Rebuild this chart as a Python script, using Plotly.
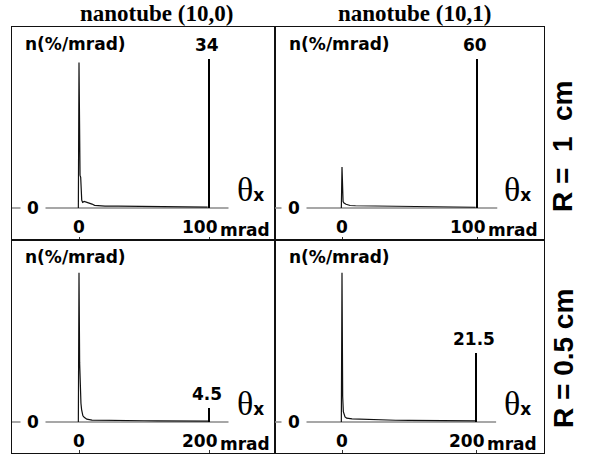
import plotly.graph_objects as go

W, H = 593, 458

# ---------------- data ----------------
col_titles = ["nanotube (10,0)", "nanotube (10,1)"]
row_labels = ["R\u00a0=\u00a0\u00a01\u00a0\u00a0cm", "R = 0.5 cm"]
y_label = "n(%/mrad)"
x_unit = "mrad"
theta_label = "θ"
theta_sub = "x"
bend_angles = [100, 200]              # mrad, per row (R = 1 cm, R = 0.5 cm)
x_tick_labels = [["0", "100"], ["0", "200"]]
y_tick_label = "0"

# angular distributions n(theta_x) near 0 mrad, per panel
tl_x = [-0.5, 0, 0.8, 1.3, 2.1, 2.8, 4, 6, 8, 10, 12, 16, 20, 30, 40, 50, 60, 70, 80, 90, 99]
tl_n = [0, 33.2, 7.5, 7.0, 1.8, 1.3, 1.5, 1.3, 1.2, 0.9, 0.6, 0.5, 0.45, 0.45, 0.4, 0.35, 0.3, 0.3, 0.25, 0.25, 0.2]

tr_x = [-0.5, 0, 0.8, 1.5, 3, 6, 10, 20, 30, 40, 50, 60, 70, 80, 90, 99]
tr_n = [0, 16.5, 2.6, 2.0, 1.5, 1.0, 0.9, 0.8, 0.7, 0.6, 0.5, 0.45, 0.4, 0.35, 0.3, 0.3]

bl_x = [-1, 0, 1, 2, 3, 4, 6, 8, 12, 20, 40, 60, 80, 100, 120, 140, 160, 180, 199]
bl_n = [0, 48, 19, 9, 6, 4, 2, 1.5, 0.9, 0.6, 0.5, 0.45, 0.4, 0.4, 0.35, 0.35, 0.3, 0.3, 0.3]

br_x = [-1, 0, 1, 2, 4.5, 7, 15, 25, 37, 60, 80, 100, 130, 160, 199]
br_n = [0, 46.5, 8, 3.2, 1.6, 1.2, 1.0, 0.9, 0.85, 0.6, 0.55, 0.5, 0.45, 0.4, 0.35]

# deflected (channeled) peak heights at the bending angle, %/mrad
peak_values = [[34, 60], [4.5, 21.5]]
peak_labels = [["34", "60"], ["4.5", "21.5"]]

curves = [[(tl_x, tl_n), (tr_x, tr_n)], [(bl_x, bl_n), (br_x, br_n)]]

# ---------------- layout geometry (pixels) ----------------
col_px = [(12, 275), (275, 544)]
row_px = [(27, 240), (240, 453)]
zero_x_px = [79, 342]
bend_x_px = [[209, 477], [209, 476]]
zero_y_px = [208, 422]
peak_top_px = [[59, 59], [408, 353]]

SANS = "DejaVu Sans"
SERIF = "Liberation Serif"

fig = go.Figure()
layout = dict(
    width=W, height=H, margin=dict(l=0, r=0, t=0, b=0),
    paper_bgcolor="white", plot_bgcolor="white", showlegend=False,
)
annotations = []

idx = 0
for r in range(2):
    for c in range(2):
        idx += 1
        xa = "xaxis" if idx == 1 else f"xaxis{idx}"
        ya = "yaxis" if idx == 1 else f"yaxis{idx}"
        xr = "x" if idx == 1 else f"x{idx}"
        yr = "y" if idx == 1 else f"y{idx}"
        L, R = col_px[c]
        T, B = row_px[r]
        bend = bend_angles[r]
        sx = (bend_x_px[r][c] - zero_x_px[c]) / bend
        xmin = (L - zero_x_px[c]) / sx
        xmax = (R - zero_x_px[c]) / sx
        peak = peak_values[r][c]
        sy = (zero_y_px[r] - peak_top_px[r][c]) / peak
        ymin = -(B - zero_y_px[r]) / sy
        ymax = (zero_y_px[r] - T) / sy

        layout[xa] = dict(domain=[L / W, R / W], range=[xmin, xmax], anchor=yr,
                          showline=True, mirror=True, linecolor="#111", linewidth=1.3,
                          showgrid=False, zeroline=False, showticklabels=False,
                          ticks="inside", tickvals=[0, bend], ticklen=3, tickcolor="#333",
                          fixedrange=True)
        layout[ya] = dict(domain=[1 - B / H, 1 - T / H], range=[ymin, ymax], anchor=xr,
                          showline=True, mirror=True, linecolor="#111", linewidth=1.3,
                          showgrid=False, zeroline=False, showticklabels=False,
                          ticks="", fixedrange=True)

        # zero baseline (gray)
        fig.add_trace(go.Scatter(x=[xmin, 1.15 * bend], y=[0, 0], mode="lines",
                                 line=dict(color="#8a8a8a", width=1.4),
                                 xaxis=xr, yaxis=yr, hoverinfo="skip"))
        # distribution near 0
        cx, cn = curves[r][c]
        fig.add_trace(go.Scatter(x=cx, y=cn, mode="lines",
                                 line=dict(color="#111", width=1.2),
                                 xaxis=xr, yaxis=yr))
        # deflected peak at bending angle
        fig.add_trace(go.Scatter(x=[bend, bend], y=[0, peak], mode="lines",
                                 line=dict(color="#000", width=2),
                                 xaxis=xr, yaxis=yr))

        f17 = dict(family=SANS, size=17, color="#000")
        # y label
        annotations.append(dict(text=f"<b>{y_label}</b>", xref=f"{xr} domain", yref=f"{yr} domain",
                                x=0.042 if c == 0 else 0.045, y=0.918, xanchor="left",
                                yanchor="middle", showarrow=False, font=f17))
        # peak label
        annotations.append(dict(text=f"<b>{peak_labels[r][c]}</b>", xref=xr, yref=yr,
                                x=bend, y=peak, xanchor="center", yanchor="bottom",
                                xshift=-2, yshift=2, showarrow=False, font=f17))
        # y tick "0"
        annotations.append(dict(text=f"<b>{y_tick_label}</b>", xref=f"{xr} domain", yref=yr,
                                x=0.08 if c == 0 else 0.07, y=0, xanchor="center",
                                yanchor="middle", showarrow=False, font=f17,
                                bgcolor="white", borderpad=6))
        # x tick labels
        annotations.append(dict(text=f"<b>{x_tick_labels[r][0]}</b>", xref=xr, yref=yr,
                                x=0, y=0, xanchor="center", yanchor="middle",
                                yshift=-19, showarrow=False, font=f17))
        annotations.append(dict(text=f"<b>{x_tick_labels[r][1]}</b>", xref=xr, yref=yr,
                                x=bend, y=0, xanchor="right", yanchor="middle",
                                xshift=11, yshift=-19, showarrow=False, font=f17))
        annotations.append(dict(text=f"<b>{x_unit}</b>", xref=xr, yref=yr,
                                x=bend, y=0, xanchor="left", yanchor="middle",
                                xshift=9, yshift=-22, showarrow=False, font=f17))
        # theta_x
        annotations.append(dict(
            text=f"{theta_label}<span style='font-family:{SANS};font-size:17px;font-weight:bold'>{theta_sub}</span>",
            xref=f"{xr} domain", yref=yr, x=0.905 if c == 0 else 0.9, y=0,
            xanchor="center", yanchor="bottom", yshift=-2, showarrow=False,
            font=dict(family=SERIF, size=34, color="#000")))

# column titles
for c, t in enumerate(col_titles):
    annotations.append(dict(text=f"<b>{t}</b>", xref="paper", yref="paper",
                            x=[156, 414][c] / W, y=1 - 13 / H, xanchor="center", yanchor="middle",
                            showarrow=False, font=dict(family=SERIF, size=23, color="#000")))
# row labels
for r, t in enumerate(row_labels):
    annotations.append(dict(text=f"<b>{t}</b>", xref="paper", yref="paper",
                            x=563 / W, y=1 - [146, 359][r] / H, xanchor="center", yanchor="middle",
                            textangle=-90, showarrow=False,
                            font=dict(family="Liberation Sans", size=28, color="#000")))

layout["annotations"] = annotations
fig.update_layout(**layout)
fig.write_html("out.html")
